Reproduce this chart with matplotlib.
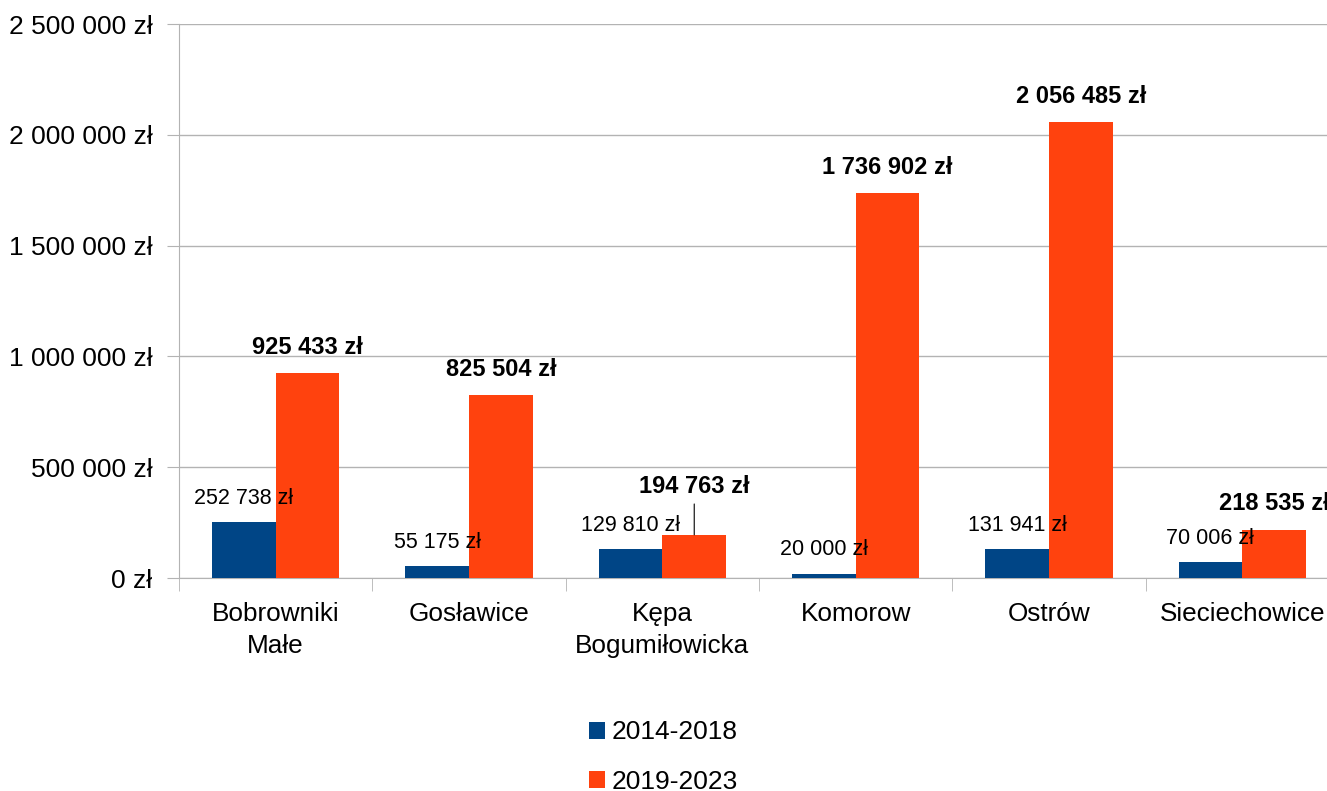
import matplotlib.pyplot as plt
import numpy as np

plt.rcParams['font.family'] = ['Liberation Sans', 'DejaVu Sans']

miejscowosci = ['Bobrowniki\nMałe', 'Gosławice', 'Kępa\nBogumiłowicka', 'Komorow', 'Ostrów', 'Sieciechowice']
okres1 = [252738, 55175, 129810, 20000, 131941, 70006]
okres2 = [925433, 825504, 194763, 1736902, 2056485, 218535]
serie = ['2014-2018', '2019-2023']


def zl(v):
    return f'{int(v):,}'.replace(',', ' ') + ' zł'


fig = plt.figure(figsize=(13.27, 7.91), dpi=100)
ax = fig.add_axes([179/1327, 1-578/791, (1339-179)/1327, (578-24)/791])

x = np.arange(len(miejscowosci))
w = 0.33
ax.bar(x - w/2, okres1, w, color='#004586', label=serie[0], zorder=3)
ax.bar(x + w/2, okres2, w, color='#ff420e', label=serie[1], zorder=3)

ax.set_xlim(-0.5, len(miejscowosci) - 0.5)
ax.set_ylim(0, 2500000)
ax.set_yticks(np.arange(0, 2500001, 500000))
ax.yaxis.set_major_formatter(lambda v, pos: zl(v))
ax.set_xticks(x)
ax.set_xticklabels(miejscowosci, fontsize=18.8, linespacing=1.45)
ax.set_xticks(np.arange(-0.5, len(miejscowosci)), minor=True)
ax.tick_params(axis='x', which='major', length=0, pad=17)
ax.tick_params(axis='x', which='minor', length=9, color='#b3b3b3')
ax.tick_params(axis='y', length=9, color='#b3b3b3', labelsize=19, pad=10)
ax.grid(axis='y', color='#b3b3b3', linewidth=1, zorder=0)
for s in ['top', 'right']:
    ax.spines[s].set_visible(False)
ax.spines['left'].set_color('#b3b3b3')
ax.spines['bottom'].set_color('#b3b3b3')

for i, v in enumerate(okres1):
    ax.annotate(zl(v), (x[i] - w/2, v), xytext=(0, 17), textcoords='offset points',
                ha='center', va='center', fontsize=15.5, zorder=4)
for i, v in enumerate(okres2):
    if i == 2:
        ax.annotate(zl(v), (x[i] + w/2, v), xytext=(0, 34.5), textcoords='offset points',
                    ha='center', va='center', fontsize=17, fontweight='bold', zorder=4,
                    arrowprops=dict(arrowstyle='-', color='black', lw=0.8, shrinkA=2, shrinkB=0))
    else:
        ax.annotate(zl(v), (x[i] + w/2, v), xytext=(0, 18.5), textcoords='offset points',
                    ha='center', va='center', fontsize=17, fontweight='bold', zorder=4)

fig.legend(loc='center', bbox_to_anchor=(0.5, 1-757/791), frameon=False, fontsize=19,
           handlelength=0.6, handleheight=0.6, handletextpad=0.25, labelspacing=0.95)

fig.savefig('out.png', dpi=100)
